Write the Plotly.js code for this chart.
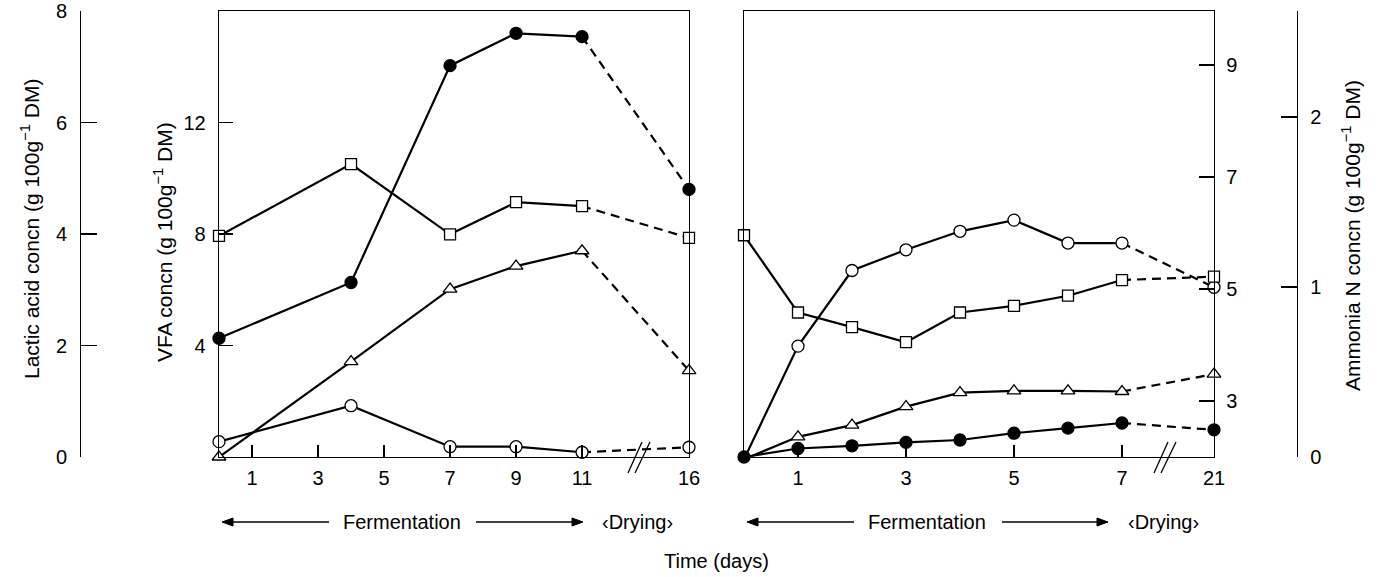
<!DOCTYPE html>
<html><head><meta charset="utf-8">
<script src="https://cdn.plot.ly/plotly-3.0.1.min.js"></script>
<style>html,body{margin:0;padding:0;background:#fff}#chart{width:1382px;height:577px}</style>
</head><body><div id="chart"></div>
<script>
// ---------------- DATA ----------------
// Left panel (fermentation 0-11 d, drying to day 16)
const leftDays      = [0, 4, 7, 9, 11, 16];
const leftFilled    = [2.13, 3.13, 7.02, 7.60, 7.54, 4.80];   // lactic acid axis (g 100g-1 DM)
const leftSquare    = [7.93, 10.51, 7.99, 9.14, 9.00, 7.86];  // VFA axis
const leftTriangle  = [0.00, 3.42, 6.02, 6.85, 7.40, 3.10];   // VFA axis
const leftCircle    = [0.55, 1.84, 0.37, 0.37, 0.17, 0.35];   // VFA axis
// Right panel (fermentation 0-7 d, drying to day 21)
const rightDays     = [0, 1, 2, 3, 4, 5, 6, 7, 21];
const rightCircle   = [1.96, 3.98, 5.33, 5.70, 6.03, 6.23, 5.82, 5.82, 5.03];
const rightSquare   = [5.96, 4.58, 4.32, 4.05, 4.58, 4.70, 4.88, 5.16, 5.22];
const rightTriangle = [1.96, 2.36, 2.57, 2.90, 3.15, 3.18, 3.18, 3.17, 3.48];
const rightFilled   = [0.00, 0.05, 0.066, 0.086, 0.10, 0.14, 0.17, 0.20, 0.16]; // ammonia N axis
// Tick labels
const leftTickDays   = [1, 3, 5, 7, 9, 11, 16];
const rightTickDays  = [1, 3, 5, 7, 21];
const lacticTicks    = [0, 2, 4, 6, 8];
const vfaTicks       = [4, 8, 12];
const rightInnerTicks= [3, 5, 7, 9];
const ammoniaTicks   = [0, 1, 2];
// Texts
const lacticTitle  = 'Lactic acid concn (g 100g<sup>\u22121</sup> DM)';
const vfaTitle     = 'VFA concn (g 100g<sup>\u22121</sup> DM)';
const ammoniaTitle = 'Ammonia N concn (g 100g<sup>\u22121</sup> DM)';
const timeTitle    = 'Time (days)';
const fermText     = 'Fermentation';
const dryText      = '\u2039Drying\u203A';

// ---------------- LAYOUT HELPERS ----------------
const W = 1382, H = 577;
const px = x => x / W, py = y => 1 - y / H;
const LEFT_LAST = 11, LEFT_DRY_AT = 14.24;     // broken axis: drying day drawn here
const RIGHT_LAST = 7, RIGHT_DRY_AT = 8.7037;
const mapLeft  = d => d <= LEFT_LAST ? d : LEFT_DRY_AT;
const mapRight = d => d <= RIGHT_LAST ? d : RIGHT_DRY_AT;

const FONT = 'Liberation Sans, Arial, Helvetica, sans-serif';
const lineTraces = [], markerTraces = [];
function addSeries(days, vals, mapFn, last, xa, ya, symbol, filled, size) {
  const xs = days.map(mapFn);
  const solidIdx = days.map((d, i) => i).filter(i => days[i] <= last);
  const lastI = solidIdx[solidIdx.length - 1];
  lineTraces.push({type:'scatter', mode:'lines', xaxis:xa, yaxis:ya, cliponaxis:false, hoverinfo:'skip',
    x: solidIdx.map(i => xs[i]), y: solidIdx.map(i => vals[i]),
    line:{color:'#000', width:2.2}});
  lineTraces.push({type:'scatter', mode:'lines', xaxis:xa, yaxis:ya, cliponaxis:false, hoverinfo:'skip',
    x: xs.slice(lastI), y: vals.slice(lastI),
    line:{color:'#000', width:2.2, dash:'9px,6px'}});
  markerTraces.push({type:'scatter', mode:'markers', xaxis:xa, yaxis:ya, cliponaxis:false,
    x: xs, y: vals,
    marker:{symbol:symbol, size:size, color: filled ? '#000' : '#fff', line:{color:'#000', width:1.3}}});
}
addSeries(leftDays, leftSquare,   mapLeft, LEFT_LAST, 'x', 'y',  'square', false, 11);
addSeries(leftDays, leftTriangle, mapLeft, LEFT_LAST, 'x', 'y',  'triangle-up', false, 12);
addSeries(leftDays, leftCircle,   mapLeft, LEFT_LAST, 'x', 'y',  'circle', false, 12);
addSeries(leftDays, leftFilled,   mapLeft, LEFT_LAST, 'x', 'y2', 'circle', true, 12);
addSeries(rightDays, rightCircle,   mapRight, RIGHT_LAST, 'x2', 'y3', 'circle', false, 12);
addSeries(rightDays, rightSquare,   mapRight, RIGHT_LAST, 'x2', 'y3', 'square', false, 11);
addSeries(rightDays, rightTriangle, mapRight, RIGHT_LAST, 'x2', 'y3', 'triangle-up', false, 12);
addSeries(rightDays, rightFilled,   mapRight, RIGHT_LAST, 'x2', 'y4', 'circle', true, 12);

const tickFont = {family:FONT, size:20, color:'#000'};
const common = {showgrid:false, zeroline:false, showline:true, linecolor:'#000', linewidth:1.3,
  tickcolor:'#000', tickwidth:1.3, tickfont:tickFont, fixedrange:true};
const yDom = [py(457), py(11)];

const layout = {
  width:W, height:H, margin:{l:0, r:0, t:0, b:0}, showlegend:false,
  paper_bgcolor:'#fff', plot_bgcolor:'rgba(0,0,0,0)',
  font:{family:FONT, size:20, color:'#000'},
  xaxis: Object.assign({}, common, {domain:[px(219), px(689)], range:[0, LEFT_DRY_AT], anchor:'y',
    tickmode:'array', tickvals:leftTickDays.map(mapLeft), ticktext:leftTickDays.map(String),
    ticks:'inside', ticklen:12, mirror:true, ticklabelstandoff:3}),
  yaxis: Object.assign({}, common, {domain:yDom, range:[0, 16], anchor:'x',
    tickmode:'array', tickvals:vfaTicks, ticks:'inside', ticklen:14, mirror:true, ticklabelstandoff:8}),
  yaxis2: Object.assign({}, common, {overlaying:'y', anchor:'free', position:px(80), side:'left',
    range:[0, 8], tickmode:'array', tickvals:lacticTicks, ticks:'inside', ticklen:16, ticklabelstandoff:9}),
  xaxis2: Object.assign({}, common, {domain:[px(744), px(1214)], range:[0, RIGHT_DRY_AT], anchor:'y3',
    tickmode:'array', tickvals:rightTickDays.map(mapRight), ticktext:rightTickDays.map(String),
    ticks:'inside', ticklen:12, mirror:true, ticklabelstandoff:3}),
  yaxis3: Object.assign({}, common, {domain:yDom, range:[2, 9.964], anchor:'x2', side:'right',
    tickmode:'array', tickvals:rightInnerTicks, ticks:'inside', ticklen:15, mirror:true, ticklabelstandoff:7}),
  yaxis4: Object.assign({}, common, {overlaying:'y3', anchor:'free', position:px(1297), side:'right',
    range:[0, 2.6235], tickmode:'array', tickvals:ammoniaTicks, ticks:'inside', ticklen:16, ticklabelstandoff:8}),
  shapes: [],
  annotations: []
};

// axis-break marks "//"
[640, 1166].forEach(c => {
  [[-12, 2], [-5, 10]].forEach(([a, b]) => {
    layout.shapes.push({type:'line', xref:'paper', yref:'paper', x0:px(c + a), y0:py(473), x1:px(c + b), y1:py(442),
      line:{color:'#000', width:1.3}});
  });
});

// phase arrows drawn as shapes (shaft + filled head)
const AY = 522;
function arrowShape(tailX, headX) {
  const dir = headX > tailX ? 1 : -1, hl = 11, hw = 4;
  const baseX = headX - dir * hl;
  layout.shapes.push({type:'line', xref:'paper', yref:'paper', x0:px(tailX), y0:py(AY), x1:px(baseX), y1:py(AY),
    line:{color:'#000', width:1.3}});
  layout.shapes.push({type:'path', xref:'paper', yref:'paper',
    path:`M ${px(headX)} ${py(AY)} L ${px(baseX)} ${py(AY - hw)} L ${px(baseX)} ${py(AY + hw)} Z`,
    fillcolor:'#000', line:{color:'#000', width:1}});
}
arrowShape(329, 222); arrowShape(476, 583);
arrowShape(854, 747); arrowShape(1002, 1108);

const ann = (text, x, y, extra) => Object.assign({text:text, x:px(x), y:py(y), xref:'paper', yref:'paper',
  showarrow:false, xanchor:'center', yanchor:'middle', font:{family:FONT, size:20, color:'#000'}}, extra || {});
const titleFont = {family:FONT, size:21, color:'#000'};
layout.annotations.push(ann(lacticTitle, 30, 229, {textangle:-90, font:titleFont}));
layout.annotations.push(ann(vfaTitle, 163, 242, {textangle:-90, font:titleFont}));
layout.annotations.push(ann(ammoniaTitle, 1351, 236, {textangle:-90, font:titleFont}));
layout.annotations.push(ann(timeTitle, 716, 561));
layout.annotations.push(ann(fermText, 402, AY));
layout.annotations.push(ann(fermText, 927, AY));
layout.annotations.push(ann(dryText, 637, AY));
layout.annotations.push(ann(dryText, 1163, AY));

Plotly.newPlot('chart', lineTraces.concat(markerTraces), layout, {displayModeBar:false, staticPlot:true});
</script></body></html>
